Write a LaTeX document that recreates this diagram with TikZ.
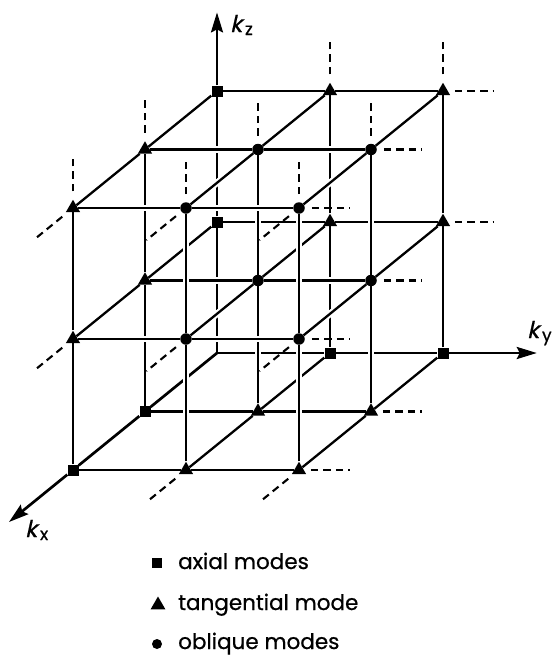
\documentclass[tikz,border=0pt]{standalone}
\usepackage{fontspec}
\setmainfont{Poppins}
\newfontfamily\slk[FakeSlant=0.22,FakeBold=0.6]{Poppins}
\newfontfamily\legfont[FakeBold=0.7]{Poppins}
\usetikzlibrary{shapes.geometric,arrows.meta,backgrounds}
\begin{document}
\begin{tikzpicture}[x=1pt,y=-1pt,
  sq/.style={rectangle,fill=black,inner sep=0pt,minimum size=11pt},
  tri/.style={regular polygon,regular polygon sides=3,fill=black,inner sep=0pt,minimum size=16.5pt},
  circ/.style={circle,fill=black,inner sep=0pt,minimum size=11.5pt},
  orig/.style={coordinate},
  edge/.style={line width=2.3pt,preaction={draw=white,line width=6.5pt,shorten <=4pt,shorten >=4pt}},
  axis/.style={line width=2.7pt,preaction={draw=white,line width=7pt,shorten <=4pt,shorten >=4pt}},
  tip/.style={-{Stealth[length=20pt,width=12pt,inset=3pt]}},
  ext/.style={line width=2.1pt,dash pattern=on 7.5pt off 5pt},
  lab/.style={anchor=base west,inner sep=0pt},
  leg/.style={anchor=base west,inner sep=0pt,font=\legfont\fontsize{21.5}{26}\selectfont},
  lsq/.style={rectangle,fill=black,inner sep=0pt,minimum size=9.5pt},
  ltri/.style={regular polygon,regular polygon sides=3,fill=black,inner sep=0pt,minimum size=17pt},
  lcirc/.style={circle,fill=black,inner sep=0pt,minimum size=10pt}]
\useasboundingbox (0,0) rectangle (556,656);

\begin{scope}[shift={(217,353)},x={(-72pt,-58.5pt)},y={(113pt,0pt)},z={(0pt,131pt)}]
  % lattice points
  \foreach \i in {0,1,2}{\foreach \j in {0,1,2}{\foreach \k in {0,1,2}{
    \pgfmathtruncatemacro\nz{(\i==0)+(\j==0)+(\k==0)}
    \ifcase\nz \def\ms{circ}\or \def\ms{tri}\or \def\ms{sq}\or \def\ms{orig}\fi
    \node[\ms] (p\i\j\k) at (\i,\j,\k) {};
  }}}
  \coordinate (kzend) at (0,0,2.6);
  \coordinate (kyend) at (0,2.83,0);
  \coordinate (kxend) at (2.89,0,0);

  \begin{scope}[on background layer]
    \foreach \i in {0,1,2}{
      % verticals in plane i
      \foreach \j in {0,1,2}{\foreach \k in {0,1}{
        \pgfmathtruncatemacro\kk{\k+1}
        \ifnum\i\j=00 \def\st{axis}\else\def\st{edge}\fi
        \draw[\st] (p\i\j\k) -- (p\i\j\kk);
      }}
      % horizontals in plane i
      \foreach \k in {0,1,2}{\foreach \j in {0,1}{
        \pgfmathtruncatemacro\jj{\j+1}
        \ifnum\i\k=00 \def\st{axis}\else\def\st{edge}\fi
        \draw[\st] (p\i\j\k) -- (p\i\jj\k);
      }}
      % diagonals from plane i to plane i+1
      \ifnum\i<2
        \pgfmathtruncatemacro\ii{\i+1}
        \foreach \j in {0,1,2}{\foreach \k in {0,1,2}{
          \ifnum\j\k=00 \def\st{axis}\else\def\st{edge}\fi
          \draw[\st] (p\i\j\k) -- (p\ii\j\k);
        }}
      \fi
    }
    % axis arrows
    \draw[axis,tip] (p002) -- (kzend);
    \draw[axis,tip] (p020) -- (kyend);
    \draw[axis,tip] (p200) -- (kxend);
    % dashed continuations
    \foreach \n in {012,022,102,112,122,202,212,222}
      \draw[ext,shorten <=8pt] (p\n) -- ++(0,0,0.375);
    \foreach \n in {021,022,120,121,122,220,221,222}
      \draw[ext,shorten <=7pt] (p\n) -- ++(0,0.45,0);
    \foreach \n in {201,202,210,211,212,220,221,222}
      \draw[ext,shorten <=7pt] (p\n) -- ++(0.55,0,0);
  \end{scope}
\end{scope}

% axis labels
\node[lab] (lz) at (230,32) {{\fontsize{23}{26}\selectfont\slk k}\kern3pt{\legfont\fontsize{17}{20}\selectfont\raisebox{-3pt}{z}}};
\node[lab] (ly) at (527,338) {{\fontsize{23}{26}\selectfont\slk k}\kern3pt{\legfont\fontsize{17}{20}\selectfont\raisebox{-3pt}{y}}};
\node[lab] (lx) at (25,537) {{\fontsize{23}{26}\selectfont\slk k}\kern3pt{\legfont\fontsize{17}{20}\selectfont\raisebox{-3pt}{x}}};

% legend
\node[lsq] (m1) at (157,563) {};
\node[ltri] (m2) at (158,605) {};
\node[lcirc] (m3) at (157,644) {};
\node[leg] (t1) at (178,569) {axial modes};
\node[leg] (t2) at (178,610) {tangential mode};
\node[leg] (t3) at (178,649) {oblique modes};
\end{tikzpicture}
\end{document}
